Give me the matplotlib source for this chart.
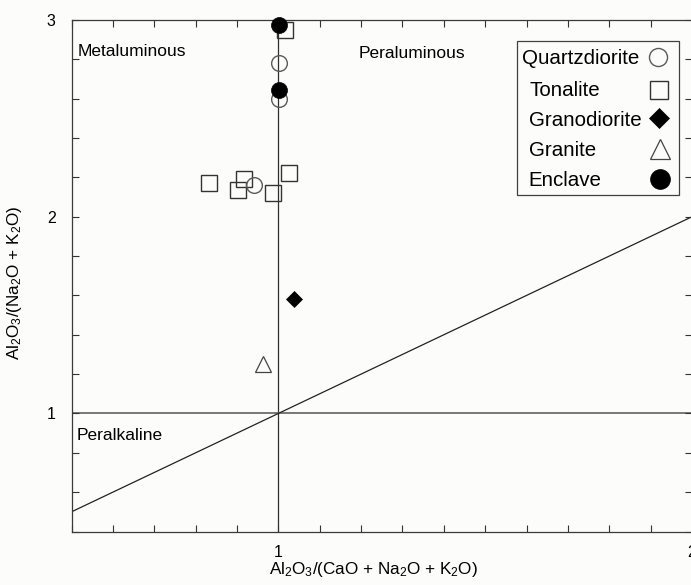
import matplotlib
matplotlib.use("Agg")
import matplotlib.pyplot as plt
from matplotlib.ticker import MultipleLocator, FixedLocator, FixedFormatter
from matplotlib.patches import Rectangle
from matplotlib.lines import Line2D

plt.rcParams['font.family'] = ['Liberation Sans', 'DejaVu Sans']
plt.rcParams['mathtext.fontset'] = 'custom'
plt.rcParams['mathtext.rm'] = 'Liberation Sans'
plt.rcParams['mathtext.default'] = 'regular'

# ---- data (A/CNK, A/NK) ----
quartzdiorite_x = [1.002, 1.002, 0.941]
quartzdiorite_y = [2.779, 2.596, 2.163]
tonalite_x = [1.015, 0.832, 0.917, 0.903, 0.988, 1.026]
tonalite_y = [2.948, 2.171, 2.193, 2.134, 2.120, 2.222]
granodiorite_x = [1.039]
granodiorite_y = [1.582]
granite_x = [0.964]
granite_y = [1.250]
enclave_x = [1.002, 1.002]
enclave_y = [2.975, 2.643]

legend_labels = ["Quartzdiorite", "Tonalite", "Granodiorite", "Granite", "Enclave"]
x_tick_vals = [1, 2]
x_tick_labels = ["1", "2"]
y_tick_vals = [1, 2, 3]
y_tick_labels = ["1", "2", "3"]

W, H = 691, 585
BG = '#fcfcfa'
fig = plt.figure(figsize=(W / 100, H / 100), dpi=100, facecolor=BG)

def fx(p):
    return p / W

def fy(p):
    return 1 - p / H

left, right, top, bottom = 71.5, 692.0, 20.0, 531.5
ax = fig.add_axes([fx(left), fy(bottom), (right - left) / W, (bottom - top) / H])
ax.set_facecolor(BG)
ax.set_xlim(0.5, 2.0)
ax.set_ylim(0.4, 3.0)

# reference lines
ax.axvline(1.0, color='#2e2e2e', lw=0.9, zorder=1)
ax.axhline(1.0, color='#6e6e6e', lw=1.3, zorder=1)
ax.axline((1.0, 1.0), slope=1.0, color='#222222', lw=0.9, zorder=1)

# data
ax.plot(tonalite_x, tonalite_y, ls='none', marker='s', ms=11.3, mfc='none',
        mec='#333333', mew=1.0, clip_on=False, zorder=3)
ax.plot(quartzdiorite_x, quartzdiorite_y, ls='none', marker='o', ms=11.3, mfc='none',
        mec='#5a5a5a', mew=1.0, clip_on=False, zorder=3)
ax.plot(granodiorite_x, granodiorite_y, ls='none', marker='D', ms=8.0, mfc='black',
        mec='black', mew=0.5, clip_on=False, zorder=4)
ax.plot(granite_x, granite_y, ls='none', marker='^', ms=11.5, mfc='none',
        mec='#444444', mew=0.9, clip_on=False, zorder=3)
ax.plot(enclave_x, enclave_y, ls='none', marker='o', ms=11.5, mfc='black',
        mec='black', mew=0.5, clip_on=False, zorder=5)

# ticks
ax.xaxis.set_major_locator(FixedLocator(x_tick_vals))
ax.xaxis.set_major_formatter(FixedFormatter(x_tick_labels))
ax.yaxis.set_major_locator(FixedLocator(y_tick_vals))
ax.yaxis.set_major_formatter(FixedFormatter(y_tick_labels))
ax.xaxis.set_minor_locator(MultipleLocator(0.1))
ax.yaxis.set_minor_locator(MultipleLocator(0.2))
ax.tick_params(which='both', direction='in', top=True, right=True, length=5,
               width=0.8, color='#333333')
ax.tick_params(axis='x', which='major', pad=9.5, labelsize=11.5)
ax.tick_params(axis='y', which='major', pad=11.5, labelsize=11.5)
for s in ax.spines.values():
    s.set_color('#3a3a3a')
    s.set_linewidth(0.9)

ax.set_xlabel('Al$_2$O$_3$/(CaO + Na$_2$O + K$_2$O)', fontsize=12.3)
ax.set_ylabel('Al$_2$O$_3$/(Na$_2$O + K$_2$O)', fontsize=12.3)
ax.xaxis.set_label_coords((373.5 - left) / (right - left), (bottom - 574) / (bottom - top), transform=ax.transAxes)
ax.yaxis.set_label_coords((15 - left) / (right - left), (bottom - 283) / (bottom - top), transform=ax.transAxes)
ax.xaxis.label.set_va('baseline')
ax.yaxis.label.set_va('center')

# field labels
fig.text(fx(77.5), fy(56), 'Metaluminous', fontsize=12.5, va='baseline', ha='left')
fig.text(fx(358.5), fy(58.5), 'Peraluminous', fontsize=12.5, va='baseline', ha='left')
fig.text(fx(76.5), fy(440), 'Peralkaline', fontsize=12.5, va='baseline', ha='left')

# legend box (manual layout)
fig.patches.append(Rectangle((fx(517), fy(195)), (679 - 517) / W, (195 - 41) / H,
                             transform=fig.transFigure, facecolor=BG,
                             edgecolor='#404040', lw=0.9, zorder=6))
text_x = [522, 530, 529, 529, 528]
text_base = [64.5, 96.5, 126, 156.5, 186.5]
mk_x = [658.3, 658.7, 659.0, 659.5, 660.0]
mk_y = [57, 89.5, 118.5, 149, 178.5]
mk_style = [
    dict(marker='o', ms=13, mfc='none', mec='#5a5a5a', mew=1.0),
    dict(marker='s', ms=13.5, mfc='none', mec='#333333', mew=1.0),
    dict(marker='D', ms=10.2, mfc='black', mec='black', mew=0.5),
    dict(marker='^', ms=14, mfc='none', mec='#444444', mew=0.9),
    dict(marker='o', ms=14.3, mfc='black', mec='black', mew=0.5),
]
for lab, tx, tb, mx, my, st in zip(legend_labels, text_x, text_base, mk_x, mk_y, mk_style):
    fig.text(fx(tx), fy(tb), lab, fontsize=14.8, va='baseline', ha='left', zorder=7)
    fig.lines.append(Line2D([fx(mx)], [fy(my)], transform=fig.transFigure, ls='none',
                            zorder=7, **st))

fig.savefig('out.png', dpi=100, facecolor=BG)
